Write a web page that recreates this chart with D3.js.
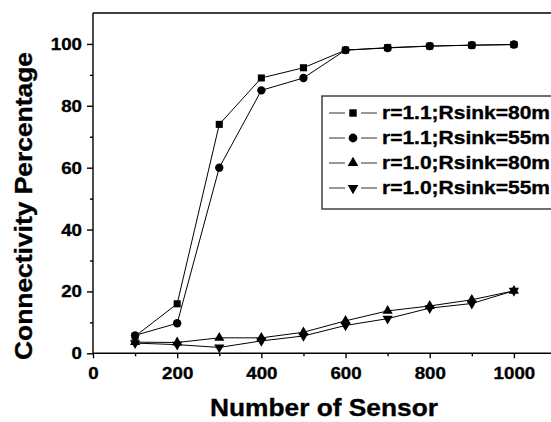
<!DOCTYPE html>
<html>
<head>
<meta charset="utf-8">
<script src="https://cdn.jsdelivr.net/npm/d3@7"></script>
<style>
  body { margin: 0; background: #fff; }
  svg { display: block; font-family: "Liberation Sans", Arial, sans-serif; font-weight: bold; }
  svg text { stroke: #000; stroke-width: 0.35px; }
</style>
</head>
<body>
<div id="chart"></div>
<script>
// sensor counts on the x axis
const sensors = [100, 200, 300, 400, 500, 600, 700, 800, 900, 1000];

// connectivity percentage for each configuration
const r11_80 = [5.5, 16, 74, 89, 92.3, 98, 98.8, 99.3, 99.6, 99.8];
const r11_55 = [5.8, 9.7, 60, 85, 89, 98, 98.7, 99.3, 99.6, 99.8];
const r10_80 = [3.6, 3.5, 5, 5, 6.8, 10.5, 13.7, 15.3, 17.3, 20.2];
const r10_55 = [3.3, 2.8, 1.9, 4, 5.6, 9, 11.2, 14.6, 16.1, 20.2];

const seriesNames = ["r=1.1;Rsink=80m", "r=1.1;Rsink=55m", "r=1.0;Rsink=80m", "r=1.0;Rsink=55m"];
const xTicks = [0, 200, 400, 600, 800, 1000];
const yTicks = [0, 20, 40, 60, 80, 100];

const width = 551, height = 422;

const svg = d3.select("#chart").append("svg")
  .attr("width", width)
  .attr("height", height);

const x = d3.scaleLinear().domain([0, 1100]).range([93, 556]);
const y = d3.scaleLinear().domain([0, 110]).range([353.3, 13]);

// stretch text horizontally like the source image
function stretch(sel, k) {
  sel.each(function () {
    const len = this.getComputedTextLength();
    d3.select(this).attr("textLength", len * k).attr("lengthAdjust", "spacingAndGlyphs");
  });
}

// frame top line
svg.append("line")
  .attr("x1", x(0)).attr("x2", x(1100))
  .attr("y1", y(110)).attr("y2", y(110))
  .attr("stroke", "#000").attr("stroke-width", 1.4);

// minor ticks
svg.append("g")
  .attr("transform", `translate(${x(0)},0)`)
  .call(d3.axisLeft(y).tickValues([10, 30, 50, 70, 90]).tickSize(3).tickFormat(""))
  .call(g => g.select(".domain").remove());
svg.append("g")
  .attr("transform", `translate(0,${y(0)})`)
  .call(d3.axisBottom(x).tickValues([100, 300, 500, 700, 900]).tickSize(3).tickFormat(""))
  .call(g => g.select(".domain").remove());

const yAxis = svg.append("g")
  .attr("transform", `translate(${x(0)},0)`)
  .call(d3.axisLeft(y).tickValues(yTicks).tickSize(6).tickPadding(5).tickSizeOuter(0).tickFormat(d3.format("d")));
const xAxis = svg.append("g")
  .attr("transform", `translate(0,${y(0)})`)
  .call(d3.axisBottom(x).tickValues(xTicks).tickSize(5).tickPadding(9).tickSizeOuter(0).tickFormat(d3.format("d")));

svg.selectAll(".tick line, .domain").attr("stroke", "#000").attr("stroke-width", 1.4);
[xAxis, yAxis].forEach(a => a.selectAll("text")
  .attr("fill", "#000")
  .style("font-size", "17px")
  .style("font-weight", "bold")
  .style("font-family", "'Liberation Sans', Arial, sans-serif"));
[xAxis, yAxis].forEach(a => stretch(a.selectAll("text"), 1.1));
yAxis.select(".domain").attr("d", `M0,${y(0)}V${y(110)}`);
xAxis.select(".domain").attr("d", `M${x(0)},0H${x(1100)}`);

// series
const allSeries = [r11_80, r11_55, r10_80, r10_55];
const symbols = [
  { type: d3.symbolSquare, size: 50, rot: 0 },
  { type: d3.symbolCircle, size: 55, rot: 0 },
  { type: d3.symbolTriangle, size: 45, rot: 0 },
  { type: d3.symbolTriangle, size: 45, rot: 180 }
];

const line = d3.line().x(d => x(d[0])).y(d => y(d[1]));

allSeries.forEach((vals, i) => {
  const pts = sensors.map((s, j) => [s, vals[j]]);
  svg.append("path")
    .datum(pts)
    .attr("fill", "none")
    .attr("stroke", "#000")
    .attr("stroke-width", 1)
    .attr("d", line);
  svg.append("g").selectAll("path")
    .data(pts)
    .join("path")
    .attr("d", d3.symbol(symbols[i].type, symbols[i].size))
    .attr("transform", d => `translate(${x(d[0])},${y(d[1])}) rotate(${symbols[i].rot})`)
    .attr("fill", "#000");
});

// legend
const legend = svg.append("g");
legend.append("rect")
  .attr("x", 322).attr("y", 96)
  .attr("width", 260).attr("height", 113)
  .attr("fill", "#fff")
  .attr("stroke", "#333").attr("stroke-width", 1.4);

seriesNames.forEach((name, i) => {
  const ly = 113 + i * 25;
  const row = legend.append("g");
  row.append("line").attr("x1", 329).attr("x2", 345).attr("y1", ly).attr("y2", ly)
    .attr("stroke", "#333").attr("stroke-width", 1);
  row.append("line").attr("x1", 361).attr("x2", 377).attr("y1", ly).attr("y2", ly)
    .attr("stroke", "#333").attr("stroke-width", 1);
  row.append("path")
    .attr("d", d3.symbol(symbols[i].type, symbols[i].size * 1.1))
    .attr("transform", `translate(353,${ly}) rotate(${symbols[i].rot})`)
    .attr("fill", "#000");
  row.append("text")
    .attr("x", 382).attr("y", ly)
    .attr("dy", "0.36em")
    .attr("fill", "#000")
    .style("font-size", "18px")
    .text(name)
    .attr("textLength", 168)
    .attr("lengthAdjust", "spacingAndGlyphs");
});

// axis titles
svg.append("text")
  .attr("x", 324).attr("y", 416)
  .attr("text-anchor", "middle")
  .attr("fill", "#000")
  .style("font-size", "24px")
  .text("Number of Sensor")
  .attr("textLength", 228)
  .attr("lengthAdjust", "spacingAndGlyphs");

svg.append("text")
  .attr("transform", "translate(32,206) rotate(-90)")
  .attr("text-anchor", "middle")
  .attr("fill", "#000")
  .style("font-size", "24px")
  .text("Connectivity Percentage")
  .attr("textLength", 308)
  .attr("lengthAdjust", "spacingAndGlyphs");
</script>
</body>
</html>
